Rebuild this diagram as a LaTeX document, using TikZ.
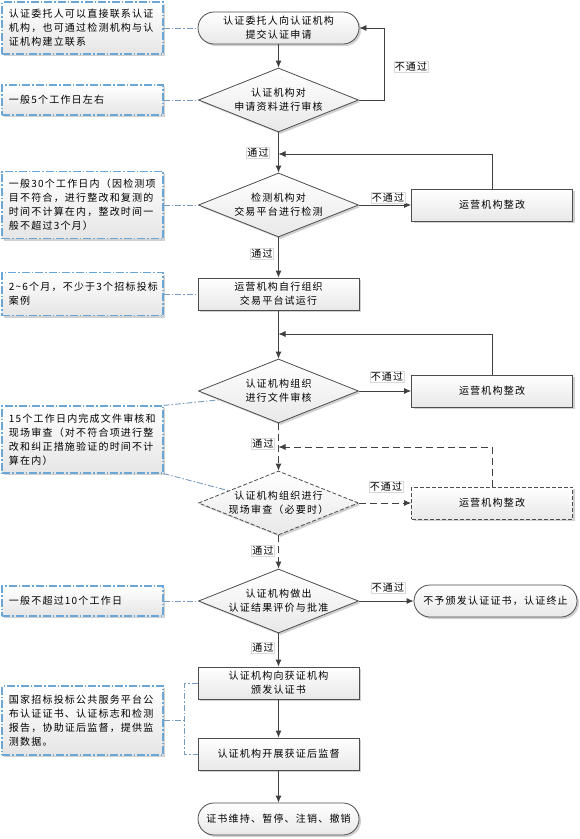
\documentclass[tikz,border=0pt]{standalone}
\usepackage{fontspec}
\setmainfont{Noto Sans CJK SC}[LetterSpace=12]
\usetikzlibrary{shapes.geometric,shadows,arrows.meta,calc}
\definecolor{bord}{HTML}{4D4D4D}
\definecolor{lin}{HTML}{404040}
\definecolor{annb}{HTML}{6AA6D6}
\definecolor{annl}{HTML}{7A9CC0}
\begin{document}
\begin{tikzpicture}[x=1pt,y=-1pt,
 every node/.style={font=\fontsize{10}{14}\selectfont},
 shad/.style={drop shadow={shadow xshift=2pt,shadow yshift=-2pt,fill=black!30,opacity=.6}},
 gfill/.style={top color=white,bottom color=black!9},
 proc/.style={rectangle,draw=bord,line width=.8pt,gfill,shad,minimum width=161pt,minimum height=32pt,inner sep=0pt,align=center},
 term/.style={proc,rounded corners=16pt},
 dec/.style={diamond,aspect=2.5,draw=bord,line width=.8pt,gfill,shad,minimum width=160pt,minimum height=64pt,inner sep=0pt,align=center},
 dashbox/.style={dash pattern=on 4pt off 2pt},
 ann/.style={rectangle,draw=annb,line width=1.1pt,dash pattern=on 8pt off 2pt on 1.5pt off 2pt,top color=white,bottom color=black!10,shad,text width=147pt,inner xsep=7pt,inner ysep=0pt,align=left},
 annline/.style={draw=annl,line width=.9pt,dash pattern=on 6pt off 2pt on 1.5pt off 2pt},
 flow/.style={draw=lin,line width=.8pt,-{Latex[length=7pt,width=6pt]}},
 dflow/.style={flow,dash pattern=on 7pt off 4pt},
 lab/.style={fill=white,draw=black!15,line width=.3pt,inner sep=1pt}
]
\useasboundingbox (0,0) rectangle (580,839);

% main flow
\node[term] (start) at (278.5,28) {认证委托人向认证机构\\提交认证申请};
\node[dec] (d1) at (278.5,100) {认证机构对\\申请资料进行审核};
\node[dec] (d2) at (278.5,205) {检测机构对\\交易平台进行检测};
\node[proc] (r1) at (492,205) {运营机构整改};
\node[proc] (t1) at (278.5,294) {运营机构自行组织\\交易平台试运行};
\node[dec] (d3) at (278.5,391) {认证机构组织\\进行文件审核};
\node[proc] (r2) at (492,391) {运营机构整改};
\node[dec,dashbox] (d4) at (278.5,503) {认证机构组织进行\\现场审查（必要时）};
\node[proc,dashbox] (r3) at (492,503) {运营机构整改};
\node[dec] (d5) at (278.5,601) {认证机构做出\\认证结果评价与批准};
\node[term,minimum width=163pt] (e1) at (495.5,601) {不予颁发认证证书，认证终止};
\node[proc] (b1) at (278.5,683) {认证机构向获证机构\\颁发认证书};
\node[proc] (b2) at (278.5,754) {认证机构开展获证后监督};
\node[term] (e2) at (278.5,819) {证书维持、暂停、注销、撤销};

\coordinate (j1) at (278.5,154);
\coordinate (j2) at (278.5,334);
\coordinate (j3) at (278.5,447);

\draw[flow] (start) -- (d1);
\draw[flow] (d1.east) -- ++(25,0) |- (start.east);
\draw[flow] (d1) -- (d2);
\draw[flow] (d2) -- (r1);
\draw[flow] (r1.north) |- (j1);
\draw[flow] (d2) -- (t1);
\draw[flow] (t1) -- (d3);
\draw[flow] (r2.north) |- (j2);
\draw[flow] (d3) -- (r2);
\draw[dflow] (d3) -- (d4);
\draw[dflow] (r3.north) |- (j3);
\draw[dflow] (d4) -- (r3);
\draw[dflow] (d4) -- (d5);
\draw[flow] (d5) -- (e1);
\draw[flow] (d5) -- (b1);
\draw[flow] (b1) -- (b2);
\draw[flow] (b2) -- (e2);

% labels
\node[lab] (l1) at (411,67) {不通过};
\node[lab] (l2) at (258,153) {通过};
\node[lab] (l3) at (388,198) {不通过};
\node[lab] (l4) at (262,254) {通过};
\node[lab] (l5) at (387,377) {不通过};
\node[lab] (l6) at (263,444) {通过};
\node[lab] (l7) at (386,487) {不通过};
\node[lab] (l8) at (263,551) {通过};
\node[lab] (l9) at (388,588) {不通过};
\node[lab] (l10) at (263,648) {通过};

% annotations
\node[ann,minimum height=52pt] (a1) at (82.5,28) {认证委托人可以直接联系认证\\机构，也可通过检测机构与认\\证机构建立联系};
\node[ann,minimum height=30pt] (a2) at (82.5,100) {一般5个工作日左右};
\node[ann,minimum height=67pt] (a3) at (82.5,205) {一般30个工作日内（因检测项\\目不符合，进行整改和复测的\\时间不计算在内，整改时间一\\般不超过3个月）};
\node[ann,minimum height=43pt] (a4) at (82.5,294) {2\char`~6个月，不少于3个招标投标\\案例};
\node[ann,minimum height=67pt] (a5) at (82.5,439.5) {15个工作日内完成文件审核和\\现场审查（对不符合项进行整\\改和纠正措施验证的时间不计\\算在内）};
\node[ann,minimum height=30pt] (a6) at (82.5,601) {一般不超过10个工作日};
\node[ann,minimum height=69pt] (a7) at (82.5,720.5) {国家招标投标公共服务平台公\\布认证证书、认证标志和检测\\报告，协助证后监督，提供监\\测数据。};

\draw[annline] (a1.east) -- (start.west);
\draw[annline] (a2.east) -- (d1.west);
\draw[annline] (a3.east) -- (d2.west);
\draw[annline] (a4.east) -- (t1.west);
\draw[annline] (a5.north east) -- ($(d3.west)!0.27!(d3.south)$);
\draw[annline] (a5.south east) -- ($(d4.west)!0.38!(d4.north)$);
\draw[annline] (a6.east) -- (d5.west);
\draw[annline] (b1.west) -- ++(-13,0) coordinate (br1) -- (br1 |- b2.west) -- (b2.west);
\draw[annline] (a7.east) -- (a7.east -| br1);
\end{tikzpicture}
\end{document}
